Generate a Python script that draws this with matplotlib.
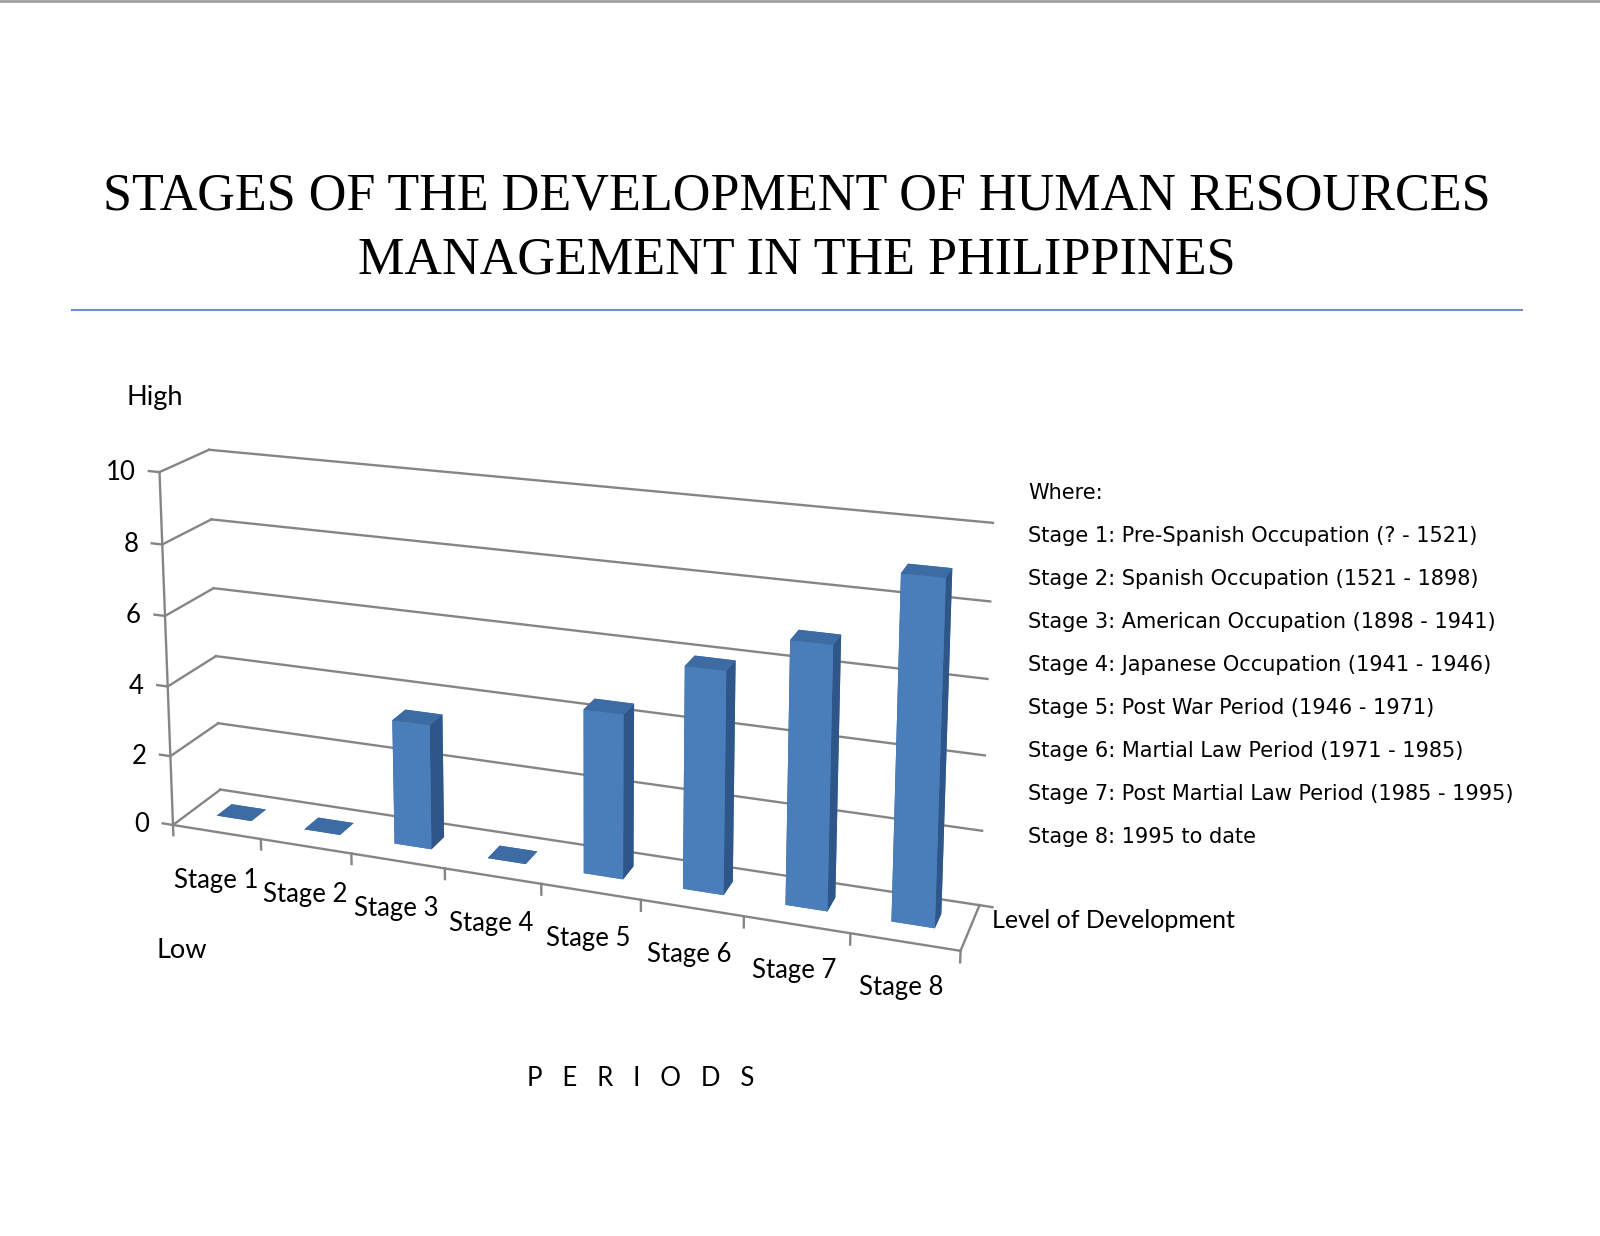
import matplotlib
matplotlib.use("Agg")
import matplotlib.pyplot as plt
from matplotlib.lines import Line2D
from mpl_toolkits.mplot3d import proj3d

# data
stages = ["Stage 1", "Stage 2", "Stage 3", "Stage 4",
          "Stage 5", "Stage 6", "Stage 7", "Stage 8"]
levels = [0, 0, 3.5, 0, 4.5, 6, 7, 9]
z_ticks = [0, 2, 4, 6, 8, 10]
legend_lines = [
    "Where:",
    "Stage 1: Pre-Spanish Occupation (? - 1521)",
    "Stage 2: Spanish Occupation (1521 - 1898)",
    "Stage 3: American Occupation (1898 - 1941)",
    "Stage 4: Japanese Occupation (1941 - 1946)",
    "Stage 5: Post War Period (1946 - 1971)",
    "Stage 6: Martial Law Period (1971 - 1985)",
    "Stage 7: Post Martial Law Period (1985 - 1995)",
    "Stage 8: 1995 to date",
]

W, H = 1600, 1236
GRID = "#858585"
FRONT = "#4a7ebb"
TOP = "#3d6ba3"
SIDE = "#2f5689"
LABEL_FONT = "Lato"


def fx(px):
    return px / W


def fy(py):
    return 1 - py / H


fig = plt.figure(figsize=(W / 100, H / 100), dpi=100)

# camera worked out from the vanishing points of the original picture;
# the box is taller/wider than the chart so its centre sits on the view axis
XMAX, ZMAX = 8.72, 29.07
side = 0.6
ax = fig.add_axes([0.05, 0.2, side, side * W / H], projection="3d",
                  computed_zorder=False)
ax.set_proj_type("persp", focal_length=0.2746)
ax.view_init(elev=10.66, azim=-70.15)
ax.set_box_aspect((0.383, 0.0423, 0.4704))
ax.set_xlim(0, XMAX)
ax.set_ylim(0, 1)
ax.set_zlim(0, ZMAX)
ax.set_axis_off()
ax.patch.set_alpha(0)

n = len(stages)

# walls: left side segments + back lines for every grid level
for z in z_ticks:
    ax.plot([0, 0], [0, 1], [z, z], color=GRID, lw=1.7, zorder=1)
    ax.plot([0, n], [1, 1], [z, z], color=GRID, lw=1.7, zorder=1)
    ax.plot([0, -0.12], [0, 0], [z, z], color=GRID, lw=1.7, zorder=1)

# value axis + floor edges
ax.plot([0, 0], [0, 0], [0, 10], color=GRID, lw=1.7, zorder=1)
ax.plot([0, n], [0, 0], [0, 0], color=GRID, lw=1.7, zorder=3)
ax.plot([n, n], [0, 1], [0, 0], color=GRID, lw=1.7, zorder=3)
ax.plot([n, n + 0.12], [1, 1], [0, 0], color=GRID, lw=1.7, zorder=3)
for i in range(n + 1):
    ax.plot([i, i], [0, 0], [0, -0.3], color=GRID, lw=1.7, zorder=3)

# bars
bw, bd = 0.4, 0.32
xs = [i + 0.5 - bw / 2 for i in range(n)]
ys = [0.53 - bd / 2] * n
colors = []
for _ in range(n):
    colors += [TOP, TOP, FRONT, FRONT, SIDE, SIDE]
ax.bar3d(xs, ys, [0] * n, bw, bd, levels, color=colors, shade=False,
         zorder=2)

# pin the projected chart box onto the page
fig.canvas.draw()


def to_px(x, y, z):
    px, py, _ = proj3d.proj_transform(x, y, z, ax.get_proj())
    return ax.transData.transform((px, py))


p0 = to_px(0, 0, 0)
p1 = to_px(n, 1, 10)
t0 = (173, H - 825)
t1 = (993, H - 517)
bb = ax.get_position().transformed(fig.transFigure)
s = (t1[0] - t0[0]) / (p1[0] - p0[0])
fx0 = (p0[0] - bb.x0) / bb.width
fy0 = (p0[1] - bb.y0) / bb.height
new_w = bb.width * s
new_h = bb.height * s
left = t0[0] - fx0 * new_w
bottom = t0[1] - fy0 * new_h
ax.set_position([left / W, bottom / H, new_w / W, new_h / H])
fig.canvas.draw()

# axis labels, placed from the projected axis positions
for z in z_ticks:
    px, py = to_px(0, 0, z)
    fig.text((px - 24) / W, py / H, str(z), ha="right", va="center",
             fontsize=18.5, family=LABEL_FONT)
for i, name in enumerate(stages):
    px, py = to_px(i + 0.5, 0, 0)
    fig.text((px - 0.5 * i) / W, (py - 49 + 0.5 * i) / H, name, ha="center",
             va="center", fontsize=18.5, family=LABEL_FONT)

fig.text(fx(155), fy(398), "High", ha="center", va="center", fontsize=19.5,
         family=LABEL_FONT)
fig.text(fx(182), fy(951), "Low", ha="center", va="center", fontsize=19.5,
         family=LABEL_FONT)
fig.text(fx(992), fy(920), "Level of Development", ha="left", va="center",
         fontsize=18, family=LABEL_FONT)
fig.text(fx(641), fy(1078), "P   E   R   I   O   D   S", ha="center",
         va="center", fontsize=18.5, family=LABEL_FONT)

# legend text
for k, line in enumerate(legend_lines):
    fig.text(fx(1028), fy(493 + k * 43), line, ha="left", va="center",
             fontsize=15, family="DejaVu Sans")

# title
fig.text(fx(797), fy(197), "STAGES OF THE DEVELOPMENT OF HUMAN RESOURCES",
         ha="center", va="center", fontsize=37.5, family="Liberation Serif")
fig.text(fx(797), fy(261), "MANAGEMENT IN THE PHILIPPINES",
         ha="center", va="center", fontsize=37.5, family="Liberation Serif")
fig.add_artist(Line2D([fx(72), fx(1522)], [fy(310), fy(310)],
                      color="#6f8fc6", lw=1.5))
fig.add_artist(Line2D([0, 1], [fy(1), fy(1)], color="#a0a0a0", lw=2))

fig.savefig("out.png", dpi=100)
